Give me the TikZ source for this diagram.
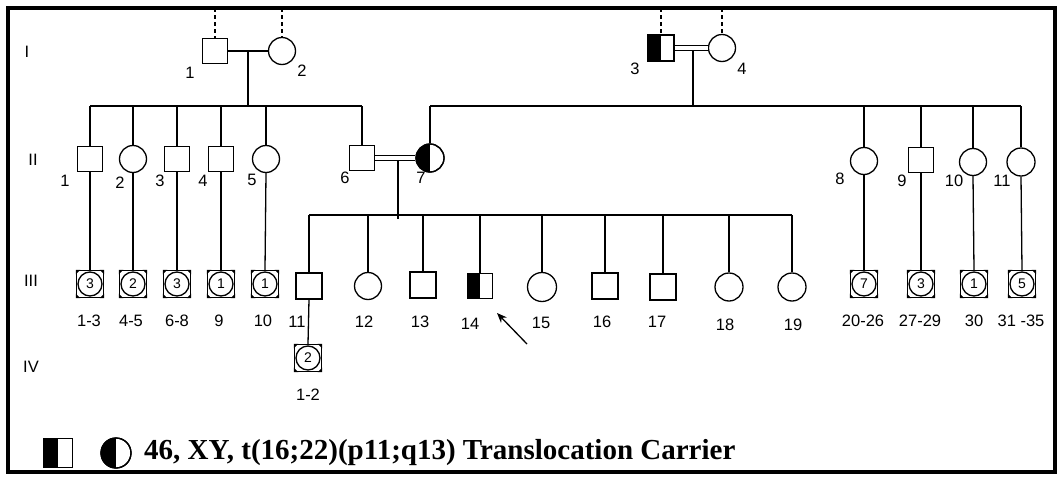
\documentclass[tikz,border=0pt]{standalone}
\usepackage{fontspec}
\setmainfont{Liberation Serif}
\newfontfamily\arialf{Liberation Sans}
\usetikzlibrary{calc,arrows.meta}
\newcommand\multisym[4]{%
  \node[sq,minimum size=27pt] (#1) at (#2,#3) {};
  \draw[lw] (#1.center) circle (12pt);
  \node[num] at (#1.center) {#4};
  \fill (#1.north west) -- ++(4.5,0) -- ++(-4.5,4.5) -- cycle;
  \fill (#1.north east) -- ++(-4.5,0) -- ++(4.5,4.5) -- cycle;
  \fill (#1.south west) -- ++(4.5,0) -- ++(-4.5,-4.5) -- cycle;
  \fill (#1.south east) -- ++(-4.5,0) -- ++(4.5,-4.5) -- cycle;
}
\begin{document}
\begin{tikzpicture}[x=1pt,y=-1pt,
  lw/.style={line width=1.3pt},
  thk/.style={line width=2.3pt},
  sq/.style={draw,fill=white,line width=1.3pt,minimum size=25pt,inner sep=0pt},
  ci/.style={draw,fill=white,circle,line width=1.3pt,minimum size=27pt,inner sep=0pt},
  lab/.style={font=\arialf\fontsize{16.5}{18}\selectfont,inner sep=0pt},
  gen/.style={font=\arialf\fontsize{16.5}{18}\selectfont,inner sep=0pt},
  num/.style={font=\arialf\fontsize{14}{14}\selectfont,inner sep=0pt},
  dsh/.style={line width=1.3pt,dash pattern=on 4pt off 3pt},
  dbl/.style={line width=1.2pt,double,double distance=3.2pt}]
\useasboundingbox (0,0) rectangle (1063,482);
\draw[line width=4pt] (8,7.5) rectangle (1054.5,471.5);

% generation labels
\node[gen] (gI) at (27,52) {I};
\node[gen] (gII) at (33,160) {II};
\node[gen] (gIII) at (31,281) {III};
\node[gen] (gIV) at (31,367) {IV};

% Generation I
\node[sq] (i1) at (215,51) {};
\node[ci] (i2) at (282,51) {};
\node[sq,minimum size=26pt] (i3) at (661,48) {};
\fill (i3.north west) rectangle (i3.south);
\node[ci] (i4) at (722,48) {};
\coordinate (t1) at (215,8);
\coordinate (t2) at (282,8);
\coordinate (t3) at (661,8);
\coordinate (t4) at (722,8);
\draw[dsh] (t1) -- (i1.north);
\draw[dsh] (t2) -- (i2.north);
\draw[dsh] (t3) -- (i3.north);
\draw[dsh] (t4) -- (i4.north);
\draw[lw] (i1.east) -- (i2.west);
\draw[dbl] (i3.east) -- (i4.west);
\node[lab] (li1) at (190,73) {1};
\node[lab] (li2) at (302,71) {2};
\node[lab] (li3) at (635,69) {3};
\node[lab] (li4) at (742,69) {4};

\coordinate (d1) at (248,51);
\coordinate (s1) at (248,106);
\draw[thk] (d1) -- (s1);
\coordinate (d2) at (693,50.5);
\coordinate (s2) at (693,106);
\draw[lw] (d2) -- (s2);

% Generation II
\node[sq] (ii1) at (90,159) {};
\node[ci] (ii2) at (133,159) {};
\node[sq] (ii3) at (177,159) {};
\node[sq] (ii4) at (221,159) {};
\node[ci] (ii5) at (266,159) {};
\node[sq] (ii6) at (362,158) {};
\node[ci,minimum size=28pt] (ii7) at (430,158) {};
\begin{scope}
  \clip (ii7.center) circle (14pt);
  \fill ([xshift=-20pt]ii7.north) rectangle (ii7.south);
\end{scope}
\draw[lw] (ii7.center) circle (14pt);
\node[ci] (ii8) at (864,161) {};
\node[sq] (ii9) at (921,160) {};
\node[ci] (ii10) at (973,162) {};
\node[ci,minimum size=28pt] (ii11) at (1021,162) {};

\coordinate (sL1) at (90,106);
\coordinate (sL2) at (362,106);
\draw[lw] (sL1) -- (sL2);
\coordinate (sR1) at (430,106);
\coordinate (sR2) at (1021,106);
\draw[lw] (sR1) -- (sR2);
\foreach \n in {ii1,ii2,ii4,ii5,ii6}{\draw[lw] (\n.north |- sL1) -- (\n.north);}
\draw[thk] (ii3.north |- sL1) -- (ii3.north);
\foreach \n in {ii7,ii8,ii9,ii10,ii11}{\draw[lw] (\n.north |- sR1) -- (\n.north);}

\draw[dbl] (ii6.east) -- (ii7.west);
\coordinate (d3) at (398,161);
\coordinate (s3) at (398,219);
\draw[lw] (d3) -- (s3);

\node[lab] (lii1) at (65,181) {1};
\node[lab] (lii2) at (120,183) {2};
\node[lab] (lii3) at (160,181) {3};
\node[lab] (lii4) at (203,181) {4};
\node[lab] (lii5) at (252,180) {5};
\node[lab] (lii6) at (345,178) {6};
\node[lab] (lii7) at (421,178) {7};
\node[lab] (lii8) at (840,179) {8};
\node[lab] (lii9) at (902,181) {9};
\node[lab] (lii10) at (954,181) {10};
\node[lab] (lii11) at (1002,181) {11};

% Generation III
\multisym{m1}{90}{284}{3}
\multisym{m2}{133}{284}{2}
\multisym{m3}{177}{284}{3}
\multisym{m4}{221}{284}{1}
\multisym{m5}{265}{284}{1}
\multisym{m6}{864}{284}{7}
\multisym{m7}{921}{284}{3}
\multisym{m8}{974}{284}{1}
\multisym{m9}{1022}{284}{5}
\draw[lw] (ii1.south) -- (m1.north);
\draw[lw] (ii2.south) -- (m2.north);
\draw[thk] (ii3.south) -- (m3.north);
\draw[lw] (ii4.south) -- (m4.north);
\draw[lw] (ii5.south) -- (m5.north);
\draw[lw] (ii8.south) -- (m6.north);
\draw[lw] (ii9.south) -- (m7.north);
\draw[lw] (ii10.south) -- (m8.north);
\draw[lw] (ii11.south) -- (m9.north);

\node[sq,minimum size=26pt] (iii11) at (309,286) {};
\node[ci] (iii12) at (368,286) {};
\node[sq,minimum size=26pt] (iii13) at (423,285) {};
\node[sq] (iii14) at (480,286) {};
\fill (iii14.north west) rectangle (iii14.south);
\node[ci,minimum size=29pt] (iii15) at (542,287) {};
\node[sq,minimum size=26pt] (iii16) at (605,286) {};
\node[sq,minimum size=26pt] (iii17) at (663,287) {};
\node[ci,minimum size=28pt] (iii18) at (729,287) {};
\node[ci,minimum size=28pt] (iii19) at (792,287) {};
\coordinate (sM1) at (309,215);
\coordinate (sM2) at (792,215);
\draw[lw] (sM1) -- (sM2);
\foreach \n in {iii11,iii12,iii13,iii14,iii15,iii16,iii17,iii18,iii19}{\draw[lw] (\n.north |- sM1) -- (\n.north);}

\node[lab] (l13) at (89,321) {1-3};
\node[lab] (l45) at (131,321) {4-5};
\node[lab] (l68) at (177,321) {6-8};
\node[lab] (l9) at (219,321) {9};
\node[lab] (l10) at (263,321) {10};
\node[lab] (l11) at (297,322) {11};
\node[lab] (l12) at (364,322) {12};
\node[lab] (l13b) at (420,322) {13};
\node[lab] (l14) at (470,324) {14};
\node[lab] (l15) at (541,323) {15};
\node[lab] (l16) at (602,322) {16};
\node[lab] (l17) at (657,322) {17};
\node[lab] (l18) at (725,325) {18};
\node[lab] (l19) at (793,325) {19};
\node[lab] (l2026) at (863,321) {20-26};
\node[lab] (l2729) at (920,321) {27-29};
\node[lab] (l30) at (974,321) {30};
\node[lab] (l3135) at (1021,321) {31 -35};

% arrow
\coordinate (a1) at (527,344);
\coordinate (a2) at (497,313);
\draw[lw,-{Stealth[length=10pt,width=8pt]}] (a1) -- (a2);

% Generation IV
\multisym{m10}{308}{358}{2}
\draw[lw] (iii11.south) -- (m10.north);
\node[lab] (l12b) at (308,395) {1-2};

% legend
\node[sq,minimum size=29pt] (lg1) at (58,453) {};
\fill (lg1.north west) rectangle (lg1.south);
\node[ci,minimum size=30pt] (lg2) at (116,453) {};
\begin{scope}
  \clip (lg2.center) circle (15pt);
  \fill ([xshift=-20pt]lg2.north) rectangle (lg2.south);
\end{scope}
\draw[lw] (lg2.center) circle (15pt);
\node[anchor=west,inner sep=0pt,font=\bfseries\fontsize{29}{31}\selectfont] (lgt) at (144,453) {46, XY, t(16;22)(p11;q13) Translocation Carrier};
\end{tikzpicture}
\end{document}
